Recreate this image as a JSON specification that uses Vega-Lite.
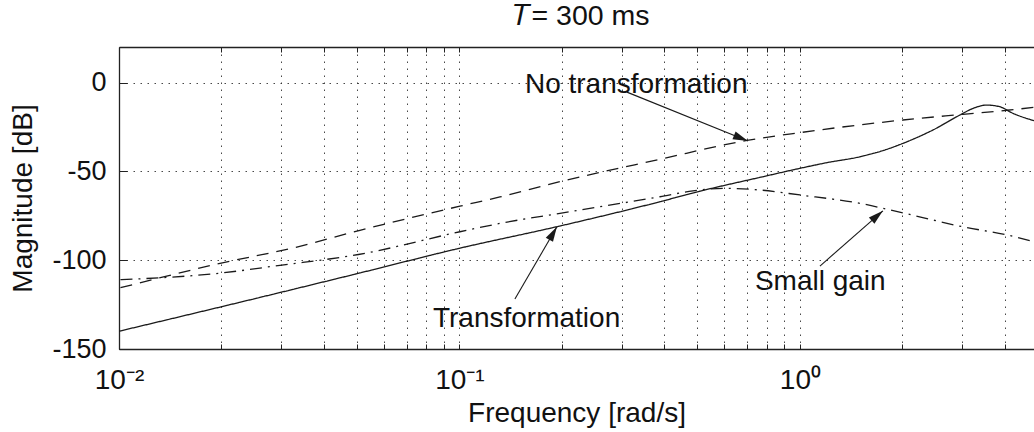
{
  "$schema": "https://vega.github.io/schema/vega-lite/v6.json",
  "width": 915,
  "height": 302,
  "autosize": {"type": "none"},
  "padding": {"left": 119, "top": 47, "right": 0, "bottom": 83},
  "background": "white",
  "config": {"view": {"stroke": null}, "font": "Liberation Sans"},
  "title": {"text": "𝑇= 300 ms", "fontSize": 28.5, "font": "Liberation Sans", "fontWeight": "normal", "color": "#111111", "offset": 16, "dx": 5},
  "datasets": {
    "curves": [
      {"series": "Transformation", "freq": 0.01, "db": -140},
      {"series": "Transformation", "freq": 0.02, "db": -126.2},
      {"series": "Transformation", "freq": 0.051, "db": -107.2},
      {"series": "Transformation", "freq": 0.1, "db": -93.3},
      {"series": "Transformation", "freq": 0.197, "db": -80.8},
      {"series": "Transformation", "freq": 0.388, "db": -67.1},
      {"series": "Transformation", "freq": 0.508, "db": -61.2},
      {"series": "Transformation", "freq": 0.763, "db": -53.4},
      {"series": "Transformation", "freq": 1.0, "db": -48.3},
      {"series": "Transformation", "freq": 1.2, "db": -45.1},
      {"series": "Transformation", "freq": 1.5, "db": -41.8},
      {"series": "Transformation", "freq": 1.8, "db": -37.6},
      {"series": "Transformation", "freq": 2.01, "db": -34.2},
      {"series": "Transformation", "freq": 2.46, "db": -26.7},
      {"series": "Transformation", "freq": 2.95, "db": -18.3},
      {"series": "Transformation", "freq": 3.23, "db": -14.5},
      {"series": "Transformation", "freq": 3.53, "db": -12.7},
      {"series": "Transformation", "freq": 3.86, "db": -13.6},
      {"series": "Transformation", "freq": 4.22, "db": -17.3},
      {"series": "Transformation", "freq": 4.87, "db": -21.5},
      {"series": "No transformation", "freq": 0.0101, "db": -115.5},
      {"series": "No transformation", "freq": 0.0198, "db": -101.8},
      {"series": "No transformation", "freq": 0.0333, "db": -92.6},
      {"series": "No transformation", "freq": 0.051, "db": -83.2},
      {"series": "No transformation", "freq": 0.1003, "db": -69.6},
      {"series": "No transformation", "freq": 0.1315, "db": -64.4},
      {"series": "No transformation", "freq": 0.1973, "db": -55.8},
      {"series": "No transformation", "freq": 0.388, "db": -43.2},
      {"series": "No transformation", "freq": 0.699, "db": -32.6},
      {"series": "No transformation", "freq": 1.0, "db": -28.2},
      {"series": "No transformation", "freq": 2.007, "db": -21.1},
      {"series": "No transformation", "freq": 3.01, "db": -17.9},
      {"series": "No transformation", "freq": 4.055, "db": -15.6},
      {"series": "No transformation", "freq": 4.87, "db": -14.0},
      {"series": "Small gain", "freq": 0.0101, "db": -111},
      {"series": "Small gain", "freq": 0.0198, "db": -107.3},
      {"series": "Small gain", "freq": 0.0297, "db": -102.9},
      {"series": "Small gain", "freq": 0.0505, "db": -96.8},
      {"series": "Small gain", "freq": 0.1003, "db": -84},
      {"series": "Small gain", "freq": 0.1315, "db": -79.3},
      {"series": "Small gain", "freq": 0.1973, "db": -73.6},
      {"series": "Small gain", "freq": 0.388, "db": -64.3},
      {"series": "Small gain", "freq": 0.485, "db": -61},
      {"series": "Small gain", "freq": 0.6, "db": -59.6},
      {"series": "Small gain", "freq": 0.763, "db": -60.5},
      {"series": "Small gain", "freq": 1.0, "db": -63.3},
      {"series": "Small gain", "freq": 1.5, "db": -68},
      {"series": "Small gain", "freq": 2.007, "db": -73.4},
      {"series": "Small gain", "freq": 3.01, "db": -81.2},
      {"series": "Small gain", "freq": 4.055, "db": -85.8},
      {"series": "Small gain", "freq": 4.87, "db": -89.6}
    ],
    "arrows": [
      {"arrow": "no", "freq": 0.3104, "db": -5.4},
      {"arrow": "no", "freq": 0.7036, "db": -32.9},
      {"arrow": "small", "freq": 1.145, "db": -103.3},
      {"arrow": "small", "freq": 1.753, "db": -72.2},
      {"arrow": "trans", "freq": 0.1455, "db": -121.9},
      {"arrow": "trans", "freq": 0.1933, "db": -81.2}
    ],
    "heads": [
      {"arrow": "no", "freq": 0.7036, "db": -32.9, "angle": 112},
      {"arrow": "small", "freq": 1.753, "db": -72.2, "angle": 48.7},
      {"arrow": "trans", "freq": 0.1933, "db": -81.2, "angle": 30.2}
    ],
    "labels": [
      {"label": "No transformation", "freq": 0.1557, "db": -6.1},
      {"label": "Small gain", "freq": 0.7376, "db": -116.8},
      {"label": "Transformation", "freq": 0.0836, "db": -137.6}
    ]
  },
  "layer": [
    {
      "data": {"name": "curves"},
      "mark": {"type": "line", "color": "#1a1a1a", "strokeWidth": 1.3, "interpolate": "monotone", "clip": true},
      "encoding": {
        "x": {"field": "freq", "type": "quantitative",
          "scale": {"type": "log", "domain": [0.01, 4.87], "nice": false},
          "axis": {"orient": "bottom", "title": "Frequency [rad/s]",
            "values": [0.01,0.02,0.03,0.04,0.05,0.06,0.07,0.08,0.09,0.1,0.2,0.3,0.4,0.5,0.6,0.7,0.8,0.9,1,2,3,4],
            "labelExpr": "datum.value == 0.01 ? '10⁻²' : datum.value == 0.1 ? '10⁻¹' : datum.value == 1 ? '10⁰' : ''",
            "labelFont": "Liberation Sans", "labelFontSize": 28, "labelColor": "#111111", "labelPadding": 22, "labelFlush": false, "labelOverlap": false,
            "tickSize": -5, "tickColor": "#222222", "domainColor": "#222222", "domainWidth": 1.3,
            "grid": true, "gridDash": [1.5, 5.5], "gridColor": "#333333", "gridWidth": 0.9, "gridOpacity": 1,
            "titleFont": "Liberation Sans", "titleFontSize": 28, "titleFontWeight": "normal", "titleColor": "#111111", "titlePadding": 5}},
        "y": {"field": "db", "type": "quantitative",
          "scale": {"domain": [-150, 20], "nice": false, "zero": false},
          "axis": {"title": "Magnitude [dB]", "values": [-150, -100, -50, 0],
            "labelExpr": "datum.value == 0 ? '0' : '-' + abs(datum.value)",
            "labelFont": "Liberation Sans", "labelFontSize": 27, "labelColor": "#111111", "labelPadding": 21,
            "tickSize": -8, "tickColor": "#222222", "domainColor": "#222222", "domainWidth": 1.3,
            "grid": true, "gridDash": [1.5, 5.5], "gridColor": "#333333", "gridWidth": 0.9, "gridOpacity": 1,
            "titleFont": "Liberation Sans", "titleFontSize": 28, "titleFontWeight": "normal", "titleColor": "#111111", "titlePadding": 14}},
        "strokeDash": {"field": "series", "type": "nominal",
          "scale": {"domain": ["Transformation", "No transformation", "Small gain"], "range": [[1, 0], [12, 8], [12, 6, 2, 6]]},
          "legend": null}
      }
    },
    {
      "data": {"name": "arrows"},
      "mark": {"type": "line", "color": "#1a1a1a", "strokeWidth": 1.1},
      "encoding": {
        "x": {"field": "freq", "type": "quantitative", "scale": {"type": "log", "domain": [0.01, 4.87], "nice": false}, "axis": null},
        "y": {"field": "db", "type": "quantitative", "scale": {"domain": [-150, 20], "nice": false, "zero": false}, "title": "Magnitude [dB]"},
        "detail": {"field": "arrow", "type": "nominal"}
      }
    },
    {
      "data": {"name": "heads"},
      "mark": {"type": "point", "shape": "M0,0L-0.42,1.5L0.42,1.5Z", "filled": true, "color": "#1a1a1a", "opacity": 1, "size": 400},
      "encoding": {
        "x": {"field": "freq", "type": "quantitative", "scale": {"type": "log", "domain": [0.01, 4.87], "nice": false}, "axis": null},
        "y": {"field": "db", "type": "quantitative", "scale": {"domain": [-150, 20], "nice": false, "zero": false}, "title": "Magnitude [dB]"},
        "angle": {"field": "angle", "type": "quantitative", "scale": null}
      }
    },
    {
      "data": {"name": "labels"},
      "mark": {"type": "text", "align": "left", "baseline": "alphabetic", "font": "Liberation Sans", "fontSize": 28, "color": "#111111"},
      "encoding": {
        "x": {"field": "freq", "type": "quantitative", "scale": {"type": "log", "domain": [0.01, 4.87], "nice": false},
          "axis": {"orient": "top", "title": null, "labels": false, "grid": false,
            "values": [0.01,0.02,0.03,0.04,0.05,0.06,0.07,0.08,0.09,0.1,0.2,0.3,0.4,0.5,0.6,0.7,0.8,0.9,1,2,3,4],
            "tickSize": -5, "tickColor": "#222222", "domainColor": "#222222", "domainWidth": 1.3}},
        "y": {"field": "db", "type": "quantitative", "scale": {"domain": [-150, 20], "nice": false, "zero": false}, "title": "Magnitude [dB]"},
        "text": {"field": "label", "type": "nominal"}
      }
    }
  ],
  "resolve": {"axis": {"x": "independent"}}
}
